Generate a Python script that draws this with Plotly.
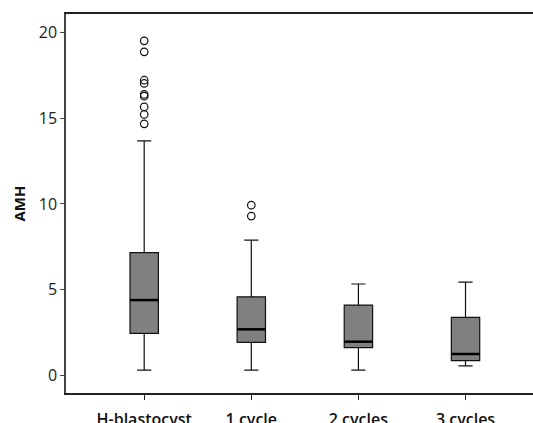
import plotly.graph_objects as go

categories = ["H-blastocyst", "1 cycle", "2 cycles", "3 cycles"]
lower_whisker = [0.29, 0.29, 0.29, 0.54]
q1 = [2.44, 1.91, 1.60, 0.84]
median = [4.38, 2.67, 1.95, 1.23]
q3 = [7.15, 4.57, 4.09, 3.37]
upper_whisker = [13.69, 7.88, 5.32, 5.43]
outlier_group = ["H-blastocyst"] * 9 + ["1 cycle"] * 2
outlier_values = [19.53, 18.89, 17.23, 17.04, 16.40, 16.30, 15.67, 15.23, 14.68, 9.93, 9.29]
y_ticks = [0, 5, 10, 15, 20]

BOX_W = 0.265

fig = go.Figure()
fig.add_trace(go.Box(
    x=categories,
    q1=q1, median=median, q3=q3,
    lowerfence=lower_whisker, upperfence=upper_whisker,
    fillcolor="#808080",
    line=dict(color="#111111", width=1.2),
    width=BOX_W,
    whiskerwidth=0.5,
    boxpoints=False,
    showlegend=False,
    hoverinfo="skip",
))
fig.add_trace(go.Scatter(
    x=outlier_group, y=outlier_values, mode="markers",
    marker=dict(symbol="circle-open", size=7.5, color="#111111", line=dict(width=1.2)),
    showlegend=False,
))
for i, m in enumerate(median):
    fig.add_shape(type="line", xref="x", yref="y",
                  x0=i - BOX_W / 2, x1=i + BOX_W / 2, y0=m, y1=m,
                  line=dict(color="#000000", width=2.5))

fig.update_layout(
    width=533, height=423,
    margin=dict(l=66, r=0, t=14, b=30),
    paper_bgcolor="white", plot_bgcolor="white",
    font=dict(family="Open Sans", color="#222222"),
)
fig.update_xaxes(
    type="category", range=[-0.73, 3.63], automargin=False,
    showline=True, linecolor="#222222", linewidth=1.5, mirror=True,
    ticks="outside", ticklen=5, tickcolor="#222222",
    showgrid=False, zeroline=False,
    ticklabelstandoff=6,
    tickfont=dict(size=16, family="Open Sans", weight=600, color="#111111"),
)
fig.update_yaxes(
    range=[-1.05, 21.1], tickvals=y_ticks, automargin=False,
    showline=True, linecolor="#444444", linewidth=1.5,
    ticks="outside", ticklen=4, tickcolor="#444444",
    showgrid=False, zeroline=False,
    tickfont=dict(size=16, family="Open Sans", color="#222222"),
    title=dict(text="AMH", font=dict(size=15, family="Open Sans", weight=700, color="#111111"), standoff=10),
)
fig.write_html("out.html", config={"displayModeBar": False},
               post_script="document.body.style.margin='0';document.body.style.overflow='hidden';")
